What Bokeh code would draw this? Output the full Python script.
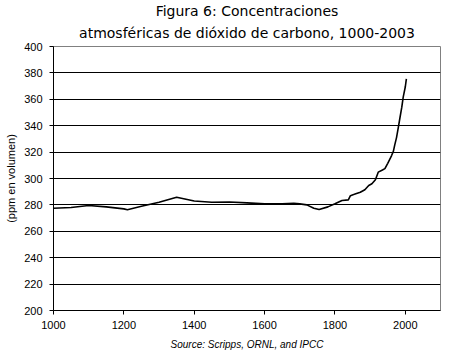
from bokeh.plotting import figure
from bokeh.models import FixedTicker, Range1d, Title
from bokeh.embed import file_html
from bokeh.resources import INLINE

years = [1000, 1050, 1100, 1150, 1200, 1210, 1250, 1300, 1350, 1400, 1450, 1500,
         1550, 1600, 1650, 1683, 1700, 1720, 1740, 1755, 1780, 1800, 1820, 1838,
         1844, 1855, 1872, 1885, 1896, 1905, 1915, 1923, 1935, 1942, 1950, 1961,
         1966, 1970, 1975, 1980, 1985, 1990, 1994, 2000, 2003]
ppm = [277.5, 278.0, 279.5, 278.5, 277.0, 276.3, 279.0, 282.0, 285.8, 283.0, 282.0, 282.2,
       281.5, 280.8, 280.8, 281.3, 280.8, 280.0, 277.5, 276.5, 278.5, 280.8, 283.3, 283.8,
       287.0, 288.0, 289.6, 291.5, 294.7, 296.0, 299.0, 304.8, 306.5, 307.5, 311.5, 317.4,
       320.5, 325.5, 331.0, 338.5, 346.4, 354.0, 361.6, 369.5, 375.5]

x_ticks = [1000, 1200, 1400, 1600, 1800, 2000]
y_ticks = [200, 220, 240, 260, 280, 300, 320, 340, 360, 380, 400]
grid_ticks = [220, 240, 260, 280, 300, 320, 340, 360, 380]

title_1 = "Figura 6: Concentraciones"
title_2 = "atmosféricas de dióxido de carbono, 1000-2003"
y_label = "(ppm en volumen)"
source_text = "Source: Scripps, ORNL, and IPCC"

p = figure(width=450, height=356, output_backend="svg", toolbar_location=None,
           x_range=Range1d(1000, 2100), y_range=Range1d(200, 400),
           min_border_left=53, min_border_right=10, min_border_top=46, min_border_bottom=46)
p.title = None
p.background_fill_color = "white"
p.border_fill_color = "white"
p.outline_line_color = "#808080"
p.outline_line_width = 1

p.xaxis.ticker = FixedTicker(ticks=x_ticks)
p.yaxis.ticker = FixedTicker(ticks=y_ticks)
p.xgrid.visible = False
p.ygrid.ticker = FixedTicker(ticks=grid_ticks)
p.ygrid.grid_line_color = "black"
p.ygrid.grid_line_width = 1

for ax in (p.xaxis[0], p.yaxis[0]):
    ax.axis_line_color = "black"
    ax.major_tick_line_color = "black"
    ax.minor_tick_line_color = None
    ax.major_tick_out = 4
    ax.major_tick_in = 0
    ax.major_label_text_font = "Liberation Sans"
    ax.major_label_text_font_size = "11px"
    ax.major_label_text_color = "black"

p.xaxis.major_label_standoff = 6
p.yaxis.major_label_standoff = 7
p.yaxis.axis_label = y_label
p.yaxis.axis_label_text_font = "Liberation Sans"
p.yaxis.axis_label_text_font_size = "11px"
p.yaxis.axis_label_text_font_style = "normal"
p.yaxis.axis_label_text_color = "black"
p.yaxis.axis_label_standoff = 4

p.xaxis.axis_label = source_text
p.xaxis.axis_label_text_font = "Liberation Sans"
p.xaxis.axis_label_text_font_size = "10px"
p.xaxis.axis_label_text_font_style = "italic"
p.xaxis.axis_label_text_color = "black"
p.xaxis.axis_label_standoff = 7

p.line(years, ppm, line_color="black", line_width=1.6)

p.add_layout(Title(text=title_2, text_font="DejaVu Sans", text_font_size="14px",
                   text_font_style="normal", align="center", standoff=11, offset=1.5,
                   text_color="black"), "above")
p.add_layout(Title(text=title_1, text_font="DejaVu Sans", text_font_size="14px",
                   text_font_style="normal", align="center", standoff=-2, offset=1.5,
                   text_color="black"), "above")

open("out.html", "w").write(file_html(p, INLINE))
